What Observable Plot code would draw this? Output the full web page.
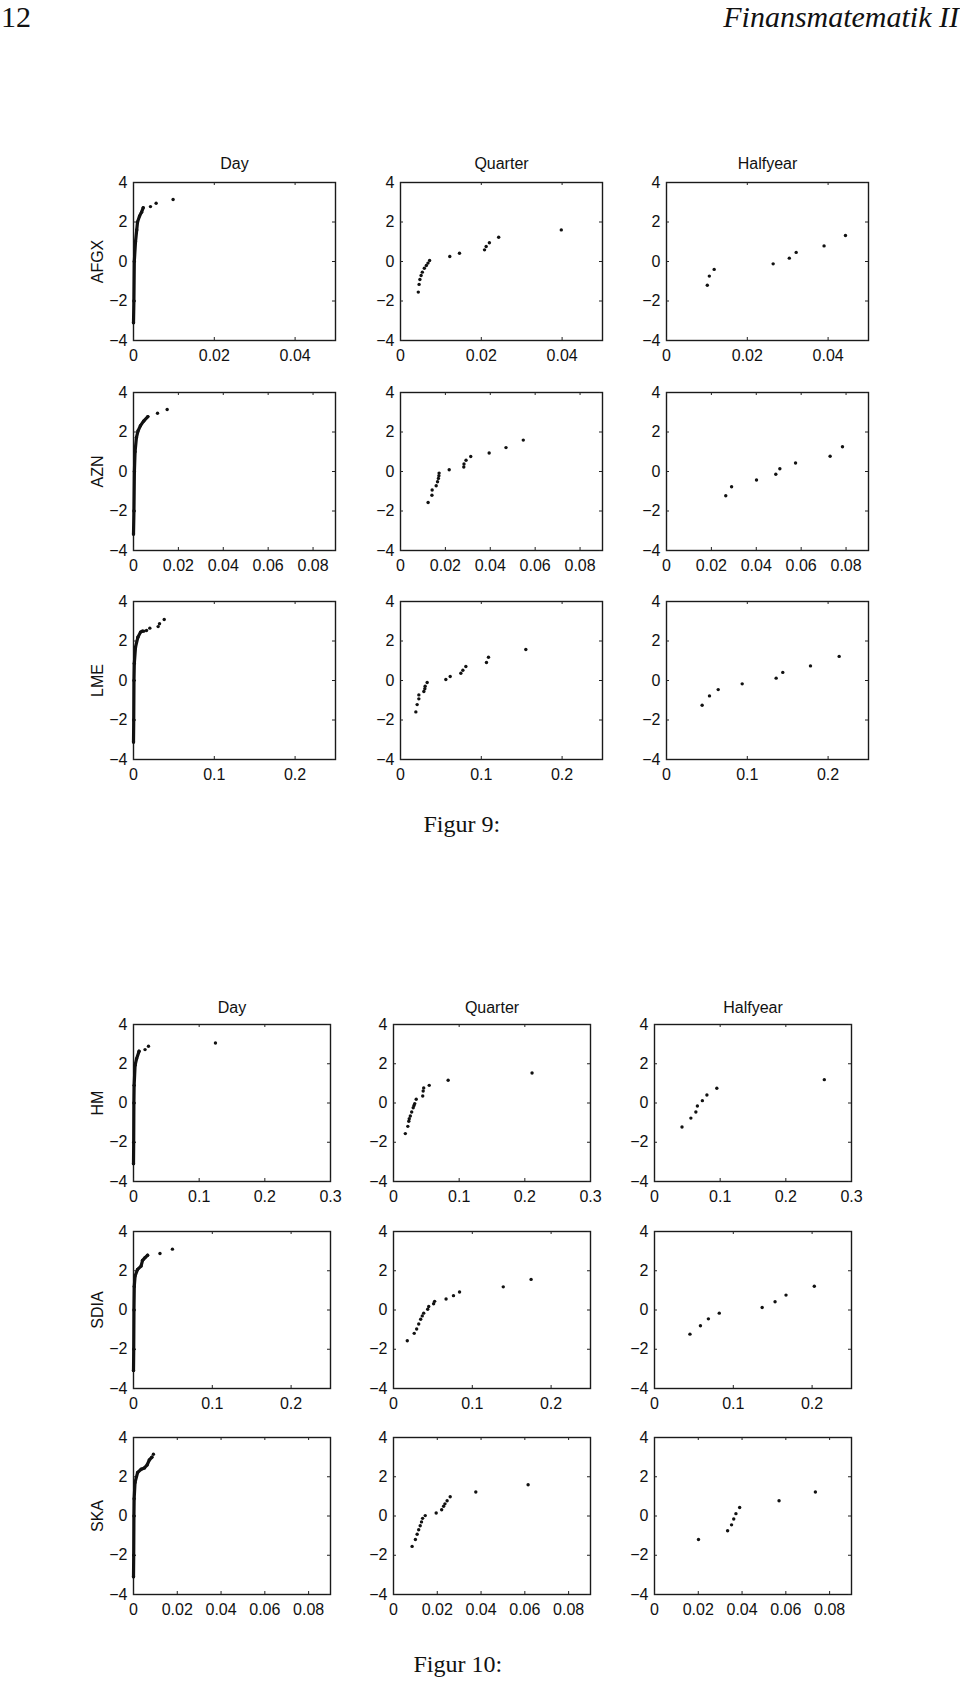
<!DOCTYPE html>
<html><head><meta charset="utf-8">
<script src="https://cdn.jsdelivr.net/npm/d3@7"></script>
<script src="https://cdn.jsdelivr.net/npm/@observablehq/plot@0.6"></script>
<style>
body{margin:0;background:#fff;}
#page{position:relative;width:960px;height:1685px;overflow:hidden;background:#fff;}
.panel{position:absolute;}
.hdr{position:absolute;font-family:"Liberation Serif","DejaVu Serif",serif;color:#111;white-space:nowrap;line-height:1;}
</style></head><body><div id="page"></div>
<script>
// ---------- text ----------
const pageNumber = "12";
const runningHead = "Finansmatematik II";
const captions = ["Figur 9:", "Figur 10:"];
const colTitles = ["Day", "Quarter", "Halfyear"];
const yTicks = [-4, -2, 0, 2, 4];

// ---------- x scales per stock ----------
const domainAFGX = [0, 0.05], ticksAFGX = [0, 0.02, 0.04];
const domainAZN = [0, 0.09], ticksAZN = [0, 0.02, 0.04, 0.06, 0.08];
const domainLME = [0, 0.25], ticksLME = [0, 0.1, 0.2];
const domainHM = [0, 0.3], ticksHM = [0, 0.1, 0.2, 0.3];
const domainSDIA = [0, 0.25], ticksSDIA = [0, 0.1, 0.2];
const domainSKA = [0, 0.09], ticksSKA = [0, 0.02, 0.04, 0.06, 0.08];

// ---------- Day (dense curve + sparse tail) ----------
const afgxDay = [[0,-3.1],[0.0001,-2],[0.0002,0],[0.0005,1],[0.0008,1.6],[0.001,2.0],[0.0015,2.3],[0.002,2.5],[0.0024,2.72]];
const afgxDayTail = [[0.0042,2.78],[0.0056,2.95],[0.0098,3.14]];
const aznDay = [[0,-3.17],[0.0002,-2],[0.0004,0],[0.0007,1],[0.0013,1.72],[0.002,2.05],[0.0031,2.32],[0.0045,2.55],[0.0064,2.78]];
const aznDayTail = [[0.0107,2.95],[0.015,3.14]];
const lmeDay = [[0,-3.12],[0.0003,-2],[0.0006,0],[0.001,0.86],[0.0025,1.69],[0.0054,2.19],[0.0087,2.45],[0.011,2.5]];
const lmeDayTail = [[0.0128,2.5],[0.0161,2.53],[0.0202,2.65],[0.0305,2.73],[0.0322,2.87],[0.038,3.09]];
const hmDay = [[0,-3.09],[0.0003,-2],[0.0006,0],[0.001,0.9],[0.0024,1.92],[0.0047,2.26],[0.0085,2.64]];
const hmDayTail = [[0.0176,2.72],[0.0228,2.89],[0.1248,3.06]];
const sdiaDay = [[0,-3.08],[0.0003,-2],[0.0006,0],[0.001,1.2],[0.002,1.73],[0.0052,2.07],[0.0096,2.24],[0.0115,2.53],[0.0147,2.67],[0.0179,2.79]];
const sdiaDayTail = [[0.0336,2.88],[0.0494,3.10]];
const skaDay = [[0,-3.1],[0.0001,-2],[0.0002,0],[0.0003,0.88],[0.0007,1.71],[0.0019,2.22],[0.0035,2.38],[0.005,2.45],[0.0062,2.6],[0.0072,2.85],[0.0084,3.0]];
const skaDayTail = [[0.0091,3.15]];

// ---------- Quarter ----------
const afgxQuarter = [[0.0044,-1.55],[0.0046,-1.16],[0.0048,-0.91],[0.0051,-0.71],[0.0054,-0.54],[0.0059,-0.34],[0.0064,-0.20],[0.0068,-0.08],[0.0072,0.05],[0.0122,0.25],[0.0146,0.42],[0.0208,0.59],[0.0212,0.76],[0.0220,0.95],[0.0243,1.23],[0.0398,1.60]];
const aznQuarter = [[0.0123,-1.57],[0.0140,-1.20],[0.0141,-0.94],[0.0159,-0.72],[0.0165,-0.52],[0.0169,-0.35],[0.0171,-0.21],[0.0172,-0.08],[0.0217,0.09],[0.0282,0.23],[0.0283,0.38],[0.0292,0.57],[0.0313,0.76],[0.0395,0.94],[0.0470,1.21],[0.0547,1.59]];
const lmeQuarter = [[0.0190,-1.59],[0.0206,-1.22],[0.0227,-0.93],[0.0227,-0.73],[0.0289,-0.56],[0.0301,-0.42],[0.0305,-0.29],[0.0330,-0.10],[0.0561,0.05],[0.0615,0.20],[0.0747,0.37],[0.0772,0.52],[0.0809,0.71],[0.1064,0.91],[0.1089,1.18],[0.1551,1.57]];
const hmQuarter = [[0.0180,-1.56],[0.0218,-1.19],[0.0233,-0.93],[0.0240,-0.80],[0.0256,-0.66],[0.0277,-0.46],[0.0300,-0.24],[0.0312,-0.13],[0.0323,-0.03],[0.0346,0.19],[0.0445,0.36],[0.0452,0.61],[0.0460,0.77],[0.0544,0.90],[0.0832,1.16],[0.2110,1.53]];
const sdiaQuarter = [[0.0175,-1.57],[0.0263,-1.19],[0.0294,-0.97],[0.0320,-0.71],[0.0345,-0.47],[0.0365,-0.30],[0.0383,-0.16],[0.0434,0.04],[0.0447,0.18],[0.0509,0.32],[0.0522,0.44],[0.0667,0.56],[0.0761,0.73],[0.0838,0.92],[0.1393,1.18],[0.1746,1.56]];
const skaQuarter = [[0.0085,-1.55],[0.0100,-1.20],[0.0108,-0.93],[0.0115,-0.70],[0.0122,-0.50],[0.0128,-0.30],[0.0133,-0.12],[0.0145,0.02],[0.0195,0.15],[0.0220,0.32],[0.0229,0.50],[0.0235,0.62],[0.0245,0.78],[0.0259,0.98],[0.0376,1.22],[0.0615,1.59]];

// ---------- Halfyear ----------
const afgxHalf = [[0.0101,-1.20],[0.0106,-0.74],[0.0118,-0.40],[0.0264,-0.12],[0.0304,0.17],[0.0321,0.46],[0.0390,0.79],[0.0443,1.32]];
const aznHalf = [[0.0264,-1.23],[0.0290,-0.77],[0.0401,-0.43],[0.0487,-0.14],[0.0505,0.14],[0.0575,0.43],[0.0729,0.77],[0.0784,1.25]];
const lmeHalf = [[0.0441,-1.25],[0.0532,-0.78],[0.0640,-0.46],[0.0937,-0.17],[0.1357,0.12],[0.1439,0.41],[0.1782,0.74],[0.2137,1.22]];
const hmHalf = [[0.0419,-1.22],[0.0554,-0.77],[0.0630,-0.46],[0.0653,-0.15],[0.0729,0.12],[0.0798,0.41],[0.0949,0.75],[0.2586,1.19]];
const sdiaHalf = [[0.0450,-1.23],[0.0583,-0.80],[0.0684,-0.45],[0.0822,-0.16],[0.1366,0.13],[0.1530,0.42],[0.1669,0.76],[0.2028,1.21]];
const skaHalf = [[0.0201,-1.20],[0.0334,-0.75],[0.0352,-0.45],[0.0362,-0.15],[0.0372,0.12],[0.0389,0.43],[0.0569,0.78],[0.0735,1.22]];

// ---------- assemble ----------
const fig9Rows = [
  {name: "AFGX", domain: domainAFGX, ticks: ticksAFGX, day: afgxDay, tail: afgxDayTail, quarter: afgxQuarter, half: afgxHalf},
  {name: "AZN", domain: domainAZN, ticks: ticksAZN, day: aznDay, tail: aznDayTail, quarter: aznQuarter, half: aznHalf},
  {name: "LME", domain: domainLME, ticks: ticksLME, day: lmeDay, tail: lmeDayTail, quarter: lmeQuarter, half: lmeHalf}
];
const fig10Rows = [
  {name: "HM", domain: domainHM, ticks: ticksHM, day: hmDay, tail: hmDayTail, quarter: hmQuarter, half: hmHalf},
  {name: "SDIA", domain: domainSDIA, ticks: ticksSDIA, day: sdiaDay, tail: sdiaDayTail, quarter: sdiaQuarter, half: sdiaHalf},
  {name: "SKA", domain: domainSKA, ticks: ticksSKA, day: skaDay, tail: skaDayTail, quarter: skaQuarter, half: skaHalf}
];

// layout (frame positions in page pixels)
const layouts = [
  {rows: fig9Rows, colX: [133, 400, 666], rowY: [182, 392, 601], w: 202, h: 158, titleDy: -14},
  {rows: fig10Rows, colX: [133, 393, 654], rowY: [1024, 1231, 1437], w: 197, h: 157, titleDy: -12}
];

const page = document.getElementById("page");
const ML = 50, MR = 12, MT = 32, MB = 32;
const INK = "#111";
const fmtX = d => String(d);
const fmtY = d => d < 0 ? "\u2212" + (-d) : String(d);
const TL = 3; // inward tick length

function makePanel(row, c, r, L) {
  const W = L.w, H = L.h;
  const pts = c === 0 ? row.day.concat(row.tail) : c === 1 ? row.quarter : row.half;
  const marks = [
    Plot.frame({stroke: "#1a1a1a", strokeWidth: 1.4}),
    // inward ticks, all four sides
    Plot.tickY(yTicks, {y: d => d, insetRight: W - TL, stroke: "#222", strokeWidth: 1}),
    Plot.tickY(yTicks, {y: d => d, insetLeft: W - TL, stroke: "#222", strokeWidth: 1}),
    Plot.tickX(row.ticks, {x: d => d, insetTop: H - TL, stroke: "#222", strokeWidth: 1}),
    Plot.tickX(row.ticks, {x: d => d, insetBottom: H - TL, stroke: "#222", strokeWidth: 1}),
    Plot.axisX({ticks: row.ticks, tickSize: 0, tickPadding: 9, tickFormat: fmtX, label: null, fill: INK}),
    Plot.axisY({ticks: yTicks, tickSize: 0, tickPadding: 6, tickFormat: fmtY, label: null, fill: INK})
  ];
  if (c === 0) {
    marks.push(Plot.line(row.day, {x: d => d[0], y: d => d[1], stroke: INK, strokeWidth: 3.2, strokeLinecap: "round", strokeLinejoin: "round"}));
  }
  marks.push(Plot.dot(pts, {x: d => d[0], y: d => d[1], r: 1.7, fill: INK, stroke: "none"}));
  if (r === 0) {
    marks.push(Plot.text([colTitles[c]], {frameAnchor: "top", dy: L.titleDy, lineAnchor: "bottom", text: d => d, fill: INK, fontSize: 16}));
  }
  if (c === 0) {
    marks.push(Plot.text([row.name], {frameAnchor: "left", dx: -36, rotate: -90, text: d => d, fill: INK, fontSize: 16, textAnchor: "middle", lineAnchor: "middle"}));
  }
  const svg = Plot.plot({
    width: W + ML + MR, height: H + MT + MB,
    marginLeft: ML, marginRight: MR, marginTop: MT, marginBottom: MB,
    x: {domain: row.domain},
    y: {domain: [-4, 4]},
    style: {fontFamily: "'Liberation Sans', Arial, Helvetica, sans-serif", fontSize: "16px", background: "transparent", overflow: "visible", color: INK},
    marks
  });
  const div = document.createElement("div");
  div.className = "panel";
  div.style.left = (L.colX[c] - ML) + "px";
  div.style.top = (L.rowY[r] - MT) + "px";
  div.appendChild(svg);
  page.appendChild(div);
}

layouts.forEach(L => {
  L.rows.forEach((row, r) => {
    for (let c = 0; c < 3; c++) makePanel(row, c, r, L);
  });
});

function addText(txt, style) {
  const el = document.createElement("div");
  el.className = "hdr";
  el.textContent = txt;
  Object.assign(el.style, style);
  page.appendChild(el);
  return el;
}
addText(pageNumber, {left: "1px", top: "2px", fontSize: "30px"});
addText(runningHead, {right: "1px", top: "2px", fontSize: "30px", fontStyle: "italic"});
const c9 = addText(captions[0], {top: "812px", fontSize: "24px"});
const c10 = addText(captions[1], {top: "1652px", fontSize: "24px"});
[[c9, 462], [c10, 458]].forEach(([el, cx]) => {
  el.style.left = (cx - el.offsetWidth / 2) + "px";
});
</script></body></html>
